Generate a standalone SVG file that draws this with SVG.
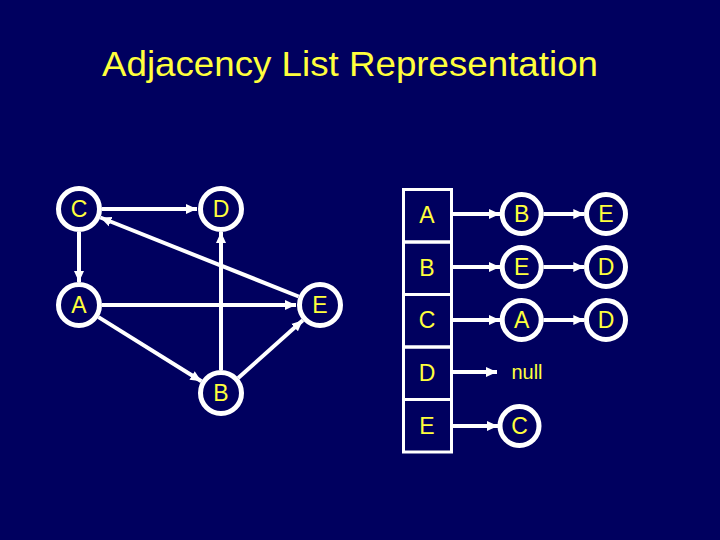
<svg xmlns="http://www.w3.org/2000/svg" width="720" height="540" viewBox="0 0 720 540">
<defs>
<marker id="ah" markerUnits="userSpaceOnUse" markerWidth="12" markerHeight="12" viewBox="0 0 12 12" refX="11" refY="6" orient="auto">
<path d="M0,1 L11,6 L0,11 Z" fill="#ffffff"/>
</marker>
</defs>
<style>
.bg{fill:#00005f}
.n{fill:none;stroke:#ffffff;stroke-width:5}
.cell{fill:none;stroke:#ffffff;stroke-width:3}
.e{stroke:#ffffff;stroke-width:4;fill:none;marker-end:url(#ah)}
.t{font-family:"Liberation Sans","DejaVu Sans",sans-serif;fill:#ffff3c;text-anchor:middle}
.lt{font-size:23px}
</style>
<rect class="bg" x="0" y="0" width="720" height="540"/>
<text class="t" x="350" y="76" font-size="35" textLength="496" lengthAdjust="spacingAndGlyphs">Adjacency List Representation</text>

<g id="connectors">
<line class="e" x1="102" y1="209" x2="197" y2="209"/>
<line class="e" x1="79" y1="232" x2="79" y2="282"/>
<line class="e" x1="298.6" y1="296.5" x2="100.4" y2="217.5"/>
<line class="e" x1="102" y1="305" x2="296" y2="305"/>
<line class="e" x1="98.5" y1="317.1" x2="201.4" y2="381.2"/>
<line class="e" x1="221" y1="370" x2="221" y2="232"/>
<line class="e" x1="238.2" y1="378" x2="302.8" y2="320.3"/>
<line class="e" x1="452" y1="214" x2="500" y2="214"/>
<line class="e" x1="543.5" y1="214" x2="584.3" y2="214"/>
<line class="e" x1="452" y1="267" x2="500" y2="267"/>
<line class="e" x1="543.5" y1="267" x2="584.3" y2="267"/>
<line class="e" x1="452" y1="320" x2="500" y2="320"/>
<line class="e" x1="543.5" y1="320" x2="584.3" y2="320"/>
<line class="e" x1="452" y1="372" x2="497" y2="372"/>
<line class="e" x1="452" y1="426" x2="498" y2="426"/>
</g>

<g id="node-C"><circle class="n" cx="79" cy="209" r="20.5"/><text class="t lt" x="79" y="217">C</text></g>
<g id="node-D"><circle class="n" cx="221" cy="209" r="20.5"/><text class="t lt" x="221" y="217">D</text></g>
<g id="node-A"><circle class="n" cx="79" cy="305" r="20.5"/><text class="t lt" x="79" y="313">A</text></g>
<g id="node-E"><circle class="n" cx="320" cy="305" r="20.5"/><text class="t lt" x="320" y="313">E</text></g>
<g id="node-B"><circle class="n" cx="221" cy="393" r="20.5"/><text class="t lt" x="221" y="401">B</text></g>

<g id="table">
<rect class="cell" x="403.5" y="189.5" width="48" height="52.5"/>
<rect class="cell" x="403.5" y="242" width="48" height="52.5"/>
<rect class="cell" x="403.5" y="294.5" width="48" height="52.5"/>
<rect class="cell" x="403.5" y="347" width="48" height="52.5"/>
<rect class="cell" x="403.5" y="399.5" width="48" height="52.5"/>
<text class="t lt" x="427" y="223">A</text>
<text class="t lt" x="427" y="276">B</text>
<text class="t lt" x="427" y="328">C</text>
<text class="t lt" x="427" y="381">D</text>
<text class="t lt" x="427" y="434">E</text>
</g>

<g id="list-A-B"><circle class="n" cx="521.7" cy="214" r="19.5"/><text class="t lt" x="521.7" y="222">B</text></g>
<g id="list-A-E"><circle class="n" cx="606" cy="214" r="19.5"/><text class="t lt" x="606" y="222">E</text></g>
<g id="list-B-E"><circle class="n" cx="521.7" cy="267" r="19.5"/><text class="t lt" x="521.7" y="275">E</text></g>
<g id="list-B-D"><circle class="n" cx="606" cy="267" r="19.5"/><text class="t lt" x="606" y="275">D</text></g>
<g id="list-C-A"><circle class="n" cx="521.7" cy="320" r="19.5"/><text class="t lt" x="521.7" y="328">A</text></g>
<g id="list-C-D"><circle class="n" cx="606" cy="320" r="19.5"/><text class="t lt" x="606" y="328">D</text></g>
<g id="list-D-null"><text class="t" x="527" y="379" font-size="20">null</text></g>
<g id="list-E-C"><circle class="n" cx="519.5" cy="426" r="19.5"/><text class="t lt" x="519.5" y="434">C</text></g>
</svg>
